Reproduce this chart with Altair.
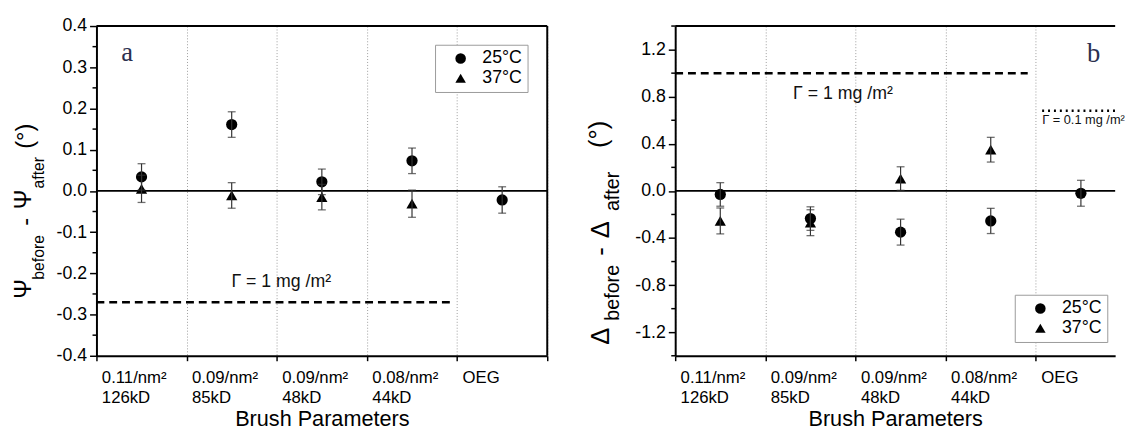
import altair as alt
import pandas as pd

FONT = "Liberation Sans"

# ---------------- data ----------------
cat_line1 = ["0.11/nm²", "0.09/nm²", "0.09/nm²", "0.08/nm²", "OEG"]
cat_line2 = ["126kD", "85kD", "48kD", "44kD", ""]
series_names = ["25°C", "37°C"]

# panel a : Psi_before - Psi_after (deg)
psi_25 = [0.034, 0.161, 0.022, 0.073, -0.022]
psi_25_err = [0.032, 0.031, 0.031, 0.031, 0.032]
psi_37 = [0.005, -0.011, -0.015, -0.031]
psi_37_err = [0.033, 0.031, 0.031, 0.033]

# panel b : Delta_before - Delta_after (deg)
delta_25 = [-0.03, -0.235, -0.35, -0.255, -0.02]
delta_25_err = [0.10, 0.10, 0.11, 0.107, 0.11]
delta_37 = [-0.255, -0.27, 0.105, 0.35]
delta_37_err = [0.11, 0.11, 0.10, 0.105]

# reference levels (Gamma = 1 mg/m2, Gamma = 0.1 mg/m2)
psi_gamma1 = -0.27
delta_gamma1 = 1.0
delta_gamma01 = 0.68

# axis ticks
psi_major = [-0.4, -0.3, -0.2, -0.1, 0.0, 0.1, 0.2, 0.3, 0.4]
psi_minor = [-0.35, -0.25, -0.15, -0.05, 0.05, 0.15, 0.25, 0.35]
delta_major = [-1.2, -0.8, -0.4, 0.0, 0.4, 0.8, 1.2]
delta_minor = [-1.4, -1.0, -0.6, -0.2, 0.2, 0.6, 1.0, 1.4]

PW, PH = 458, 335          # plot size of panel a
PW_B = 447                 # visible plot width of panel b (cut by window)
BAND = PW / 5.0


def make_df(v25, e25, v37, e37):
    rows = []
    for i, (v, e) in enumerate(zip(v25, e25)):
        rows.append(dict(pos=i + 0.5, series=series_names[0], value=v, lo=v - e, hi=v + e))
    for i, (v, e) in enumerate(zip(v37, e37)):
        rows.append(dict(pos=i + 0.5, series=series_names[1], value=v, lo=v - e, hi=v + e))
    return pd.DataFrame(rows)


def x_label_expr():
    parts = []
    for i, (a, b) in enumerate(zip(cat_line1, cat_line2)):
        if b:
            parts.append(f"datum.value == {i} ? ['{a}', '{b}']")
        else:
            parts.append(f"datum.value == {i} ? '\u00a0\u00a0\u00a0{a}'")
    return " : ".join(parts) + " : ''"


def y_title_layers(pieces):
    out = []
    for txt, fs, dx, dy in pieces:
        out.append(
            alt.Chart(pd.DataFrame({"t": [txt]}))
            .mark_text(angle=270, align="center", baseline="middle", font=FONT,
                       fontSize=fs, color="black")
            .encode(x=alt.value(dx), y=alt.value(dy), text="t:N")
        )
    return out


def panel(df, ydom, ymajor, yminor, width, xmax, xvals,
          legend_xy, letter, letter_xy, gamma_texts, ref_lines, title_pieces,
          right_frame):
    xs = alt.Scale(domain=[0, xmax], nice=False, zero=False)
    ys = alt.Scale(domain=ydom, nice=False, zero=False)

    xaxis = alt.Axis(
        values=xvals, grid=True, gridDash=[1, 2], gridColor="#9c9c9c", gridWidth=1,
        ticks=True, tickSize=5, tickColor="black", tickWidth=1.5,
        domainColor="black", domainWidth=2,
        labelExpr=x_label_expr(), labelAlign="left", labelBaseline="top",
        labelOffset=5, labelPadding=9, labelLineHeight=21,
        labelFont=FONT, labelFontSize=17, labelColor="black",
        labelOverlap=False, labelFlush=False, labelBound=False,
        title="Brush Parameters", titleFont=FONT, titleFontSize=22,
        titleFontWeight="normal", titleColor="black", titlePadding=3,
    )
    yaxis = alt.Axis(
        values=ymajor, grid=False,
        labelExpr="replace(format(datum.value, '.1f'), '\u2212', '-')",
        tickSize=7, tickColor="black", tickWidth=1.5,
        domainColor="black", domainWidth=2,
        labelFont=FONT, labelFontSize=18, labelColor="black", labelPadding=3,
        labelOverlap=False, labelFlush=False, title=None,
    )

    base = alt.Chart(df)
    zero = alt.Chart(pd.DataFrame({"z": [0.0]})).mark_rule(color="black", strokeWidth=1.6).encode(
        y=alt.Y("z:Q", scale=ys))
    minor = alt.Chart(pd.DataFrame({"m": yminor})).mark_rule(color="black", strokeWidth=1.5).encode(
        y=alt.Y("m:Q", scale=ys), x=alt.value(-4), x2=alt.value(0))
    errs = base.mark_rule(color="#333333", strokeWidth=1.2).encode(
        x=alt.X("pos:Q", scale=xs),
        y=alt.Y("lo:Q", scale=ys), y2="hi:Q")
    cap_lo = base.mark_tick(orient="horizontal", size=8, thickness=1.3, color="#333333").encode(
        x=alt.X("pos:Q", scale=xs), y=alt.Y("lo:Q", scale=ys))
    cap_hi = base.mark_tick(orient="horizontal", size=8, thickness=1.3, color="#333333").encode(
        x=alt.X("pos:Q", scale=xs), y=alt.Y("hi:Q", scale=ys))
    pts = base.mark_point(filled=True, size=130, color="black", opacity=1).encode(
        x=alt.X("pos:Q", scale=xs, axis=xaxis),
        y=alt.Y("value:Q", scale=ys, axis=yaxis),
        shape=alt.Shape("series:N",
                        scale=alt.Scale(domain=series_names, range=["circle", "triangle-up"]),
                        legend=alt.Legend(title=None, orient="none",
                                          legendX=legend_xy[0], legendY=legend_xy[1],
                                          symbolSize=115, symbolFillColor="black",
                                          symbolStrokeColor="black", symbolStrokeWidth=0,
                                          labelFont=FONT, labelFontSize=18, labelColor="black",
                                          strokeColor="#9a9a9a", fillColor="white",
                                          padding=5, rowPadding=2, symbolOffset=12,
                                          labelOffset=13)),
    )

    layers = [pts, zero, minor]
    for (x0, x1, yv, dash, sw) in ref_lines:
        layers.append(
            alt.Chart(pd.DataFrame({"a": [x0], "b": [x1], "y": [yv]}))
            .mark_rule(color="black", strokeWidth=sw, strokeDash=dash)
            .encode(x=alt.X("a:Q", scale=xs), x2="b:Q",
                    y=alt.Y("y:Q", scale=ys))
        )
    layers += [errs, cap_lo, cap_hi]
    for (txt, gx, gy, fs, align) in gamma_texts:
        layers.append(
            alt.Chart(pd.DataFrame({"t": [txt], "x": [gx], "y": [gy]}))
            .mark_text(font=FONT, fontSize=fs, color="#111111", align=align, baseline="middle")
            .encode(x=alt.X("x:Q", scale=xs), y=alt.Y("y:Q", scale=ys),
                    text="t:N")
        )
    layers.append(
        alt.Chart(pd.DataFrame({"t": [letter], "x": [letter_xy[0]], "y": [letter_xy[1]]}))
        .mark_text(font="Liberation Serif", fontSize=27, color="#2b3050", baseline="middle")
        .encode(x=alt.X("x:Q", scale=xs), y=alt.Y("y:Q", scale=ys),
                text="t:N")
    )
    # frame
    layers.append(alt.Chart(pd.DataFrame({"k": [0]})).mark_rule(color="black", strokeWidth=2).encode(
        x=alt.value(0), x2=alt.value(width), y=alt.value(0)))
    if right_frame:
        layers.append(alt.Chart(pd.DataFrame({"k": [0]})).mark_rule(color="black", strokeWidth=2).encode(
            x=alt.value(width), y=alt.value(0), y2=alt.value(PH)))
    layers += y_title_layers(title_pieces)
    return alt.layer(*layers).properties(width=width, height=PH)


df_a = make_df(psi_25, psi_25_err, psi_37, psi_37_err)
df_b = make_df(delta_25, delta_25_err, delta_37, delta_37_err)

left = panel(
    df_a, [-0.4, 0.4], psi_major, psi_minor,
    PW, 5, [0, 1, 2, 3, 4, 5],
    (344, 19), "a", (0.34, 0.335),
    [("Γ = 1 mg /m²", 2.05, -0.22, 18, "center")],
    [(0, 3.95, psi_gamma1, [8, 5], 2.5)],
    [("Ψ", 24, -73, 267), ("before", 16, -58, 235), ("-", 24, -71, 199),
     ("Ψ", 24, -73, 176), ("after", 16, -58, 149), ("(°)", 24, -71, 112)],
    True,
)

right = panel(
    df_b, [-1.4, 1.4], delta_major, delta_minor,
    PW_B, PW_B / BAND, [0, 1, 2, 3, 4],
    (345, 273), "b", (4.64, 1.165),
    [("Γ = 1 mg /m²", 1.86, 0.82, 18, "center"),
     ("Γ = 0.1 mg /m²", 4.07, 0.60, 13, "left")],
    [(0, 3.91, delta_gamma1, [8, 5], 2.5),
     (4.07, PW_B / BAND, delta_gamma01, [2, 4], 2.5)],
    [("Δ", 26, -75, 315), ("before", 20, -63, 271), ("-", 26, -75, 229),
     ("Δ", 26, -75, 207), ("after", 20, -63, 168), ("(°)", 26, -77, 110)],
    False,
)

chart = (
    alt.hconcat(left, right, spacing=35)
    .resolve_scale(x="independent", y="independent", shape="independent")
    .resolve_legend(shape="independent")
    .configure_view(stroke=None)
    .properties(padding={"left": 13, "top": 14, "right": 0, "bottom": 0}, background="white")
)

chart.save("out.html", embed_options={"renderer": "svg", "actions": False})
